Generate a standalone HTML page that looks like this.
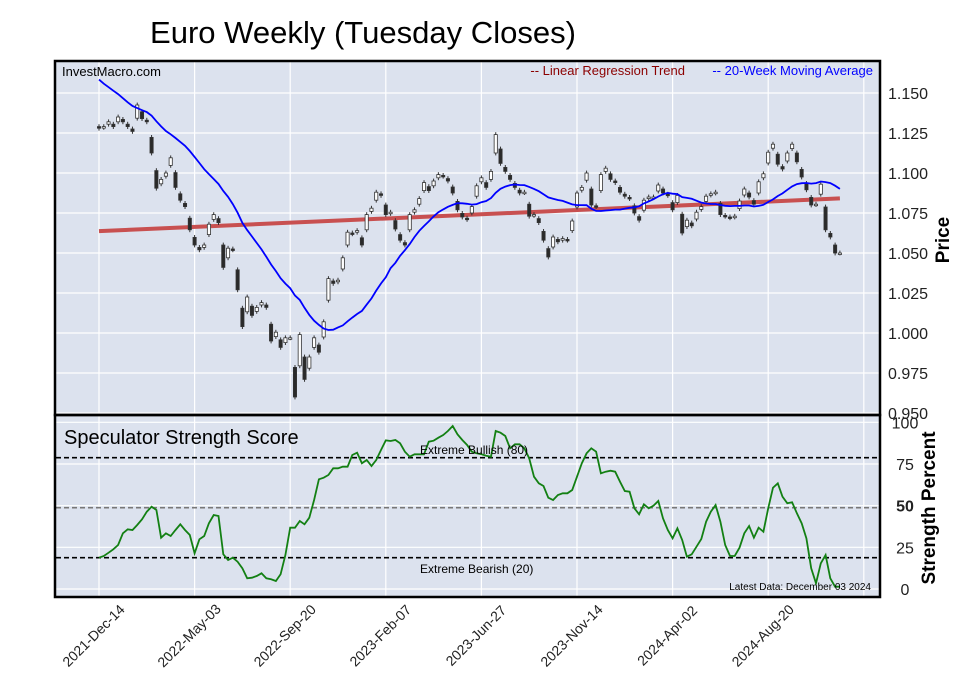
<!DOCTYPE html>
<html><head><meta charset="utf-8">
<style>
body{margin:0;background:#fff;font-family:"Liberation Sans",Arial,sans-serif;}
svg{display:block}
text{font-family:"Liberation Sans",Arial,sans-serif;}
</style></head>
<body>
<svg id="chart" width="957" height="694" viewBox="0 0 957 694" xmlns="http://www.w3.org/2000/svg">
<text x="363" y="43" font-size="31" text-anchor="middle" textLength="426" lengthAdjust="spacingAndGlyphs">Euro Weekly (Tuesday Closes)</text>
<rect x="55" y="61" width="825" height="354" fill="#dce2ee"/>
<rect x="55" y="415" width="825" height="182" fill="#dce2ee"/>
<g id="grid"></g>
<g id="marks"></g>
<rect x="55" y="61" width="825" height="354" fill="none" stroke="#000" stroke-width="2.5"/>
<rect x="55" y="415" width="825" height="182" fill="none" stroke="#000" stroke-width="2.5"/>
<text x="62" y="76" font-size="13">InvestMacro.com</text>
<text x="685" y="75" font-size="13" fill="#8b0000" text-anchor="end">-- Linear Regression Trend</text>
<text x="873" y="75" font-size="13" fill="#0000ff" text-anchor="end">-- 20-Week Moving Average</text>
<text x="64" y="444" font-size="20">Speculator Strength Score</text>
<text x="420" y="454" font-size="12">Extreme Bullish (80)</text>
<text x="420" y="573" font-size="12">Extreme Bearish (20)</text>
<text x="871" y="590" font-size="10" text-anchor="end">Latest Data: December 03 2024</text>
<text transform="translate(949,240) rotate(-90)" font-size="19" font-weight="bold" text-anchor="middle">Price</text>
<text transform="translate(935,508) rotate(-90)" font-size="19" font-weight="bold" text-anchor="middle">Strength Percent</text>
</svg>
<script>
const priorCloses=[1.180,1.176,1.172,1.178,1.183,1.180,1.172,1.169,1.160,1.156,1.158,1.160,1.160,1.158,1.150,1.137,1.132,1.128,1.130];
const closes=[1.128,1.129,1.132,1.129,1.135,1.132,1.129,1.126,1.1425,1.134,1.132,1.1125,1.0905,1.096,1.100,1.1095,1.091,1.083,1.079,1.0645,
1.055,1.052,1.055,1.068,1.074,1.069,1.041,1.053,1.052,1.027,1.004,1.0225,1.011,1.016,1.019,1.016,0.995,1.0005,0.991,0.997,
0.997,0.960,0.999,0.971,0.985,0.997,0.988,1.007,1.034,1.031,1.033,1.047,1.063,1.062,1.064,1.055,1.074,1.078,1.088,1.086,
1.074,1.0755,1.065,1.058,1.055,1.074,1.077,1.084,1.094,1.089,1.095,1.099,1.098,1.095,1.0875,1.077,1.0725,1.071,1.079,1.092,
1.097,1.091,1.101,1.124,1.106,1.101,1.096,1.091,1.0875,1.088,1.073,1.074,1.069,1.058,1.0475,1.060,1.057,1.059,1.058,1.070,
1.0875,1.091,1.100,1.080,1.079,1.099,1.103,1.096,1.094,1.088,1.0855,1.084,1.075,1.0705,1.083,1.085,1.085,1.0925,1.0875,1.086,
1.077,1.086,1.0625,1.0705,1.067,1.0755,1.079,1.0855,1.087,1.088,1.074,1.073,1.072,1.073,1.0825,1.090,1.085,1.0805,1.0945,1.0995,
1.113,1.118,1.1055,1.1025,1.1125,1.118,1.107,1.0975,1.0895,1.080,1.0805,1.093,1.0645,1.060,1.050,1.050];
const strength=[20,21,23,25,27.6,34.6,37,36.6,39.6,43,47.6,50.6,48.6,32,34.6,33,36.6,40,36.6,33.6,
22.6,31,33,40.6,45.6,45,22,18.6,20,17.6,13.6,7.6,8,9,10.6,7.6,7,6,10,21.6,
38,38,42,40,44,54.6,67,68,69.6,73.6,73.6,74.6,74.6,81.6,83,76.6,78.6,75,78.6,84.6,
90.4,90,90.6,88.6,83.6,80.6,82,82,82,89.6,90.2,92,93.6,96,99,94,90.6,87.6,83.6,82.6,
82,81.2,80.6,96,95,93,85.6,88,88,85.6,79.6,68.6,64.6,63,56,54.6,57.6,58.6,58.6,60.6,
68.6,76.6,82.6,85.6,83.6,70.6,71.6,72.2,71.6,65.6,60,59.6,49.6,46,52,49.6,51.2,54,43.6,36.6,
31.6,37.6,30.6,20.6,22,26.6,31.2,41.6,47.6,51.6,41.6,27.6,21,21,26,34.6,39,32,38,35.6,
49.6,62,64.6,56.6,52.6,53.2,46.6,40.6,31.6,13.6,4.6,16.6,21.6,7.6,2.6,2.6];
const dateLabels=["2021-Dec-14","2022-May-03","2022-Sep-20","2023-Feb-07","2023-Jun-27","2023-Nov-14","2024-Apr-02","2024-Aug-20"];
const priceTicks=[0.950,0.975,1.000,1.025,1.050,1.075,1.100,1.125,1.150];
const strengthTicks=[0,25,50,75,100];

const NS="http://www.w3.org/2000/svg";
const x=i=>99+4.78*i;
const yP=p=>93+(1.150-p)*1600;
const yS=v=>591-v*1.6667;
const grid=document.getElementById('grid'),marks=document.getElementById('marks'),svg=document.getElementById('chart');
function mk(tag,attrs,parent){const e=document.createElementNS(NS,tag);for(const k in attrs)e.setAttribute(k,attrs[k]);parent.appendChild(e);return e;}

for(let t=0;t<=8;t++){
  const gx=x(t*20);
  const l1=mk('line',{x1:gx,x2:gx,y1:62,y2:414,stroke:'#fff','stroke-width':1.2},grid);
  
  
  const l2=mk('line',{x1:gx,x2:gx,y1:416,y2:596,stroke:'#fff','stroke-width':1.2},grid);
  
  
  if(t<dateLabels.length){
    const tx=mk('text',{transform:`translate(${gx-2},${639}) rotate(-45)`,'font-size':14,'text-anchor':'middle',fill:'#222'},svg);
    tx.textContent=dateLabels[t];
    
    
  }
}
priceTicks.forEach(p=>{
  const l=mk('line',{x1:56,x2:879,y1:yP(p),y2:yP(p),stroke:'#fff','stroke-width':1.2},grid);
  
  
  const t=mk('text',{x:888,y:yP(p)+6,'font-size':16,fill:'#222'},svg);
  t.textContent=p.toFixed(3);
  
  
});
strengthTicks.forEach(v=>{
  const l=mk('line',{x1:56,x2:879,y1:yS(v)-2,y2:yS(v)-2,stroke:'#fff','stroke-width':1.2},grid);
  
  
  const t=mk('text',{x:905,y:yS(v)+4,'font-size':16,fill:'#222','text-anchor':'middle','font-weight':v===50?'bold':'normal'},svg);
  t.textContent=v;
  
  
});
[[80,'#000','extreme-bullish-line'],[50,'#777','midline'],[20,'#000','extreme-bearish-line']].forEach(([v,c,n])=>{
  const l=mk('line',{x1:56,x2:879,y1:yS(v),y2:yS(v),stroke:c,'stroke-width':1.6,'stroke-dasharray':'5,3'},marks);
  
  
});
const n=closes.length;let sx=0,sy=0,sxx=0,sxy=0;
closes.forEach((c,i)=>{sx+=i;sy+=c;sxx+=i*i;sxy+=i*c;});
const slope=(n*sxy-sx*sy)/(n*sxx-sx*sx),icpt=(sy-slope*sx)/n;
const reg=mk('line',{x1:x(0),y1:yP(icpt),x2:x(n-1),y2:yP(icpt+slope*(n-1)),stroke:'#c85050','stroke-width':4},marks);


closes.forEach((c,i)=>{
  const prev=i===0?priorCloses[priorCloses.length-1]:closes[i-1];
  const o=c+(prev-c)*0.5;
  const hi=Math.max(o,c)+0.0015,lo=Math.min(o,c)-0.0015;
  const g=mk('g',{},marks);
  
  
  mk('line',{x1:x(i),x2:x(i),y1:yP(hi),y2:yP(lo),stroke:'#333','stroke-width':1},g);
  const top=yP(Math.max(o,c)),h=Math.max(1.5,Math.abs(yP(o)-yP(c)));
  mk('rect',{x:x(i)-1.6,y:top,width:3.2,height:h,fill:c>=o?'#fff':'#2a2a2a',stroke:'#333','stroke-width':0.8},g);
});
const all=priorCloses.concat(closes);
let pts=[];
closes.forEach((c,i)=>{let s=0;for(let k=0;k<20;k++)s+=all[i+19-k];pts.push(x(i).toFixed(1)+','+yP(s/20).toFixed(1));});
const ma=mk('polyline',{points:pts.join(' '),fill:'none',stroke:'#0000ff','stroke-width':1.8},marks);


const sp=mk('polyline',{points:strength.map((v,i)=>x(i).toFixed(1)+','+yS(v).toFixed(1)).join(' '),fill:'none',stroke:'#138013','stroke-width':1.8},marks);


</script>
</body></html>
